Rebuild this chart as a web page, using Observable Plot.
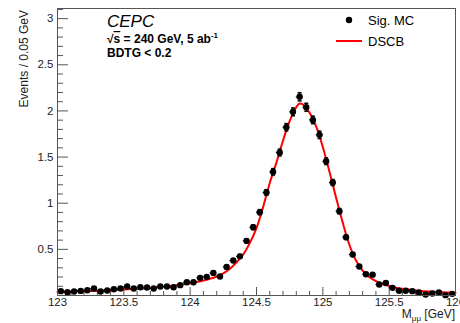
<!DOCTYPE html>
<html><head><meta charset="utf-8">
<script src="https://cdn.jsdelivr.net/npm/d3@7"></script>
<script src="https://cdn.jsdelivr.net/npm/@observablehq/plot@0.6"></script>
<style>body{margin:0;background:#fff}</style>
</head><body><div id="chart"></div>
<script>
const binCenters = [123.025,123.075,123.125,123.175,123.225,123.275,123.325,123.375,123.425,123.475,
  123.525,123.575,123.625,123.675,123.725,123.775,123.825,123.875,123.925,123.975,
  124.025,124.075,124.125,124.175,124.225,124.275,124.325,124.375,124.425,124.475,
  124.525,124.575,124.625,124.675,124.725,124.775,124.825,124.875,124.925,124.975,
  125.025,125.075,125.125,125.175,125.225,125.275,125.325,125.375,125.425,125.475,
  125.525,125.575,125.625,125.675,125.725,125.775,125.825,125.875,125.925,125.975];
const events = [0.047,0.036,0.043,0.050,0.057,0.076,0.043,0.054,0.068,0.076,
  0.097,0.076,0.090,0.086,0.076,0.097,0.097,0.090,0.112,0.144,
  0.144,0.191,0.202,0.245,0.206,0.310,0.379,0.424,0.592,0.740,
  0.903,1.116,1.340,1.549,1.823,1.990,2.153,2.040,1.903,1.741,
  1.455,1.224,0.914,0.632,0.444,0.314,0.231,0.226,0.119,0.136,
  0.083,0.051,0.051,0.047,0.033,0.011,0.022,0.033,0.004,0.018];
const errors = [0.007,0.006,0.006,0.007,0.007,0.008,0.006,0.007,0.008,0.008,
  0.009,0.008,0.009,0.009,0.008,0.009,0.009,0.009,0.010,0.011,
  0.011,0.013,0.013,0.015,0.014,0.017,0.018,0.020,0.023,0.026,
  0.028,0.031,0.035,0.037,0.040,0.042,0.044,0.043,0.041,0.040,
  0.036,0.033,0.029,0.024,0.020,0.017,0.014,0.014,0.010,0.011,
  0.009,0.007,0.007,0.007,0.005,0.003,0.004,0.005,0.002,0.004];
const fitX = [123.00,123.10,123.20,123.30,123.40,123.50,123.60,123.70,123.80,123.90,
  124.00,124.05,124.10,124.15,124.20,124.25,124.30,124.35,124.40,124.45,
  124.50,124.55,124.60,124.65,124.70,124.75,124.80,124.825,124.85,124.90,
  124.95,125.00,125.05,125.10,125.15,125.20,125.25,125.30,125.35,125.40,
  125.45,125.50,125.55,125.60,125.70,125.80,125.90,126.00];
const fitY = [0.040,0.043,0.047,0.052,0.058,0.065,0.073,0.082,0.094,0.110,
  0.132,0.146,0.162,0.182,0.206,0.240,0.290,0.360,0.445,0.570,
  0.730,0.960,1.220,1.440,1.680,1.890,2.040,2.080,2.070,1.980,
  1.830,1.610,1.340,1.060,0.790,0.550,0.380,0.270,0.200,0.155,
  0.125,0.102,0.085,0.072,0.055,0.044,0.036,0.030];
const xMajor = [123,123.5,124,124.5,125,125.5,126];
const xLabels = ["123","123.5","124","124.5","125","125.5","126"];
const yMajor = [0.5,1,1.5,2,2.5,3];
const yLabels = ["0.5","1","1.5","2","2.5","3"];

const W = 460, H = 323, mL = 57, mR = 5, mT = 8, mB = 28;
const fw = W - mL - mR, fh = H - mT - mB;
const xMinor = d3.range(1, 30).map(i => 123 + i * 0.1).filter(v => Math.abs(v * 2 - Math.round(v * 2)) > 1e-6);
const yMinor = d3.range(1, 32).map(i => i * 0.1).filter(v => Math.abs(v * 2 - Math.round(v * 2)) > 1e-6);

const pts = binCenters.map((x, i) => ({x, y: events[i], e: errors[i]}));
const fit = fitX.map((x, i) => ({x, y: fitY[i]}));
const capSym = {draw(ctx) { ctx.moveTo(-2, 0); ctx.lineTo(2, 0); }};
const axisCol = "#555";

const chart = Plot.plot({
  width: W, height: H,
  marginLeft: mL, marginRight: mR, marginTop: mT, marginBottom: mB,
  style: {fontFamily: "'Liberation Sans', Arial, sans-serif", color: "#222", background: "#fff"},
  x: {domain: [123, 126]},
  y: {domain: [0, 3.11]},
  marks: [
    Plot.ruleX(xMinor, {stroke: axisCol, insetTop: fh - 4}),
    Plot.ruleX(xMajor, {stroke: axisCol, insetTop: fh - 8}),
    Plot.ruleY(yMinor, {stroke: axisCol, insetRight: fw - 6}),
    Plot.ruleY(yMajor, {stroke: axisCol, insetRight: fw - 11}),
    Plot.axisX(xMajor, {tickSize: 0, tickPadding: 2, fontSize: 11.5, tickFormat: d => xLabels[xMajor.indexOf(d)], label: null}),
    Plot.axisY(yMajor, {tickSize: 0, tickPadding: 4, fontSize: 11.5, tickFormat: d => yLabels[yMajor.indexOf(d)], label: null}),
    Plot.line(fit, {x: "x", y: "y", stroke: "#ff0000", strokeWidth: 2, curve: "catmull-rom"}),
    Plot.ruleX(pts, {x: "x", y1: d => d.y - d.e, y2: d => d.y + d.e, stroke: "#000"}),
    Plot.ruleY(pts, {y: "y", x1: d => d.x - 0.025, x2: d => d.x + 0.025, stroke: "#000"}),
    Plot.dot(pts, {x: "x", y: d => d.y + d.e, symbol: capSym, stroke: "#000", r: 2}),
    Plot.dot(pts, {x: "x", y: d => d.y - d.e, symbol: capSym, stroke: "#000", r: 2}),
    Plot.dot(pts, {x: "x", y: "y", r: 3.2, fill: "#000"}),
    Plot.frame({stroke: axisCol})
  ]
});

const svg = d3.select(chart);
const ff = "'Liberation Sans', Arial, sans-serif";
svg.append("text").attr("transform", "translate(28,10) rotate(-90)")
  .attr("text-anchor", "end").attr("font-family", ff).attr("font-size", 12).attr("fill", "#222")
  .text("Events / 0.05 GeV");
const xt = svg.append("text").attr("x", 455).attr("y", 318).attr("text-anchor", "end")
  .attr("font-family", ff).attr("font-size", 12).attr("fill", "#222");
xt.append("tspan").text("M");
xt.append("tspan").attr("font-size", 8).attr("dy", 3).text("μμ");
xt.append("tspan").attr("dy", -3).text(" [GeV]");

svg.append("text").attr("x", 107).attr("y", 27).attr("text-anchor", "start").attr("font-family", ff).attr("font-size", 17)
  .attr("font-style", "italic").attr("fill", "#000").text("CEPC");
const t2 = svg.append("text").attr("x", 107).attr("y", 43).attr("text-anchor", "start").attr("font-family", ff).attr("font-size", 12)
  .attr("font-weight", "bold").attr("fill", "#000");
t2.append("tspan").text("√");
t2.append("tspan").style("text-decoration", "overline").text("s");
t2.append("tspan").text(" = 240 GeV, 5 ab");
t2.append("tspan").attr("font-size", 8).attr("dy", -5).text("-1");
svg.append("text").attr("x", 107).attr("y", 57).attr("text-anchor", "start").attr("font-family", ff).attr("font-size", 12)
  .attr("font-weight", "bold").attr("fill", "#000").text("BDTG < 0.2");

svg.append("circle").attr("cx", 349).attr("cy", 20).attr("r", 3.2).attr("fill", "#000");
svg.append("text").attr("x", 368).attr("y", 25).attr("text-anchor", "start").attr("font-family", ff).attr("font-size", 13)
  .attr("fill", "#000").text("Sig. MC");
svg.append("line").attr("x1", 336).attr("x2", 362).attr("y1", 41).attr("y2", 41)
  .attr("stroke", "#ff0000").attr("stroke-width", 2);
svg.append("text").attr("x", 368).attr("y", 46).attr("text-anchor", "start").attr("font-family", ff).attr("font-size", 13)
  .attr("fill", "#000").text("DSCB");

document.getElementById("chart").appendChild(chart);
</script>
</body></html>
